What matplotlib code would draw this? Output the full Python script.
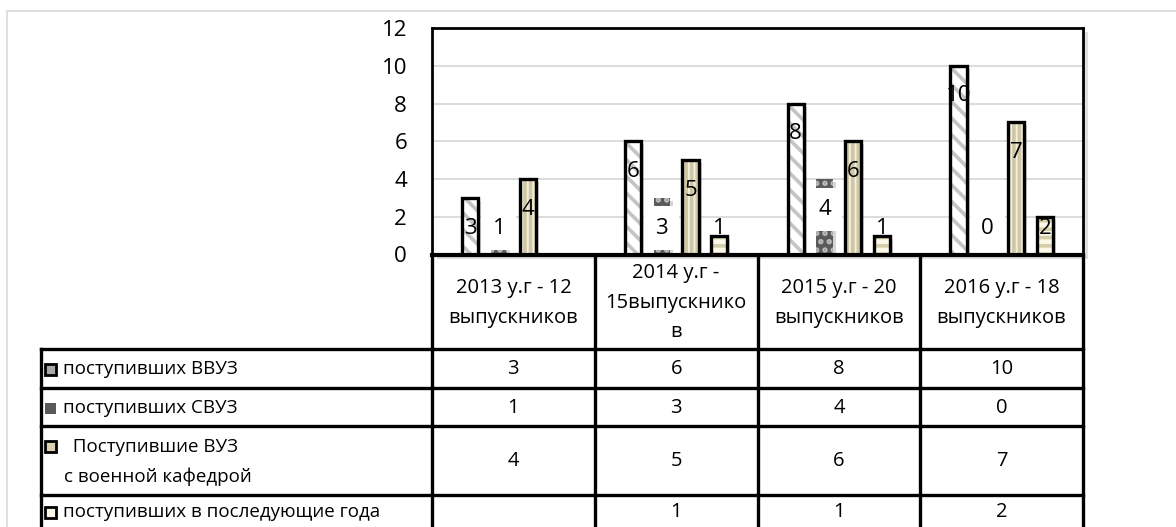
import numpy as np
import matplotlib.pyplot as plt
from matplotlib.patches import Rectangle
from matplotlib.transforms import offset_copy

plt.rcParams["font.family"] = ["Open Sans", "DejaVu Sans"]
plt.rcParams["hatch.linewidth"] = 2.6

categories = [
    ["2013 у.г - 12", "выпускников"],
    ["2014 у.г -", "15выпускнико", "в"],
    ["2015 у.г - 20", "выпускников"],
    ["2016 у.г - 18", "выпускников"],
]
series_names = [
    ["поступивших ВВУЗ"],
    ["поступивших СВУЗ"],
    ["  Поступившие ВУЗ", "с военной кафедрой"],
    ["поступивших в последующие года"],
]
vvuz = [3, 6, 8, 10]
svuz = [1, 3, 4, 0]
vuz_kafedra = [4, 5, 6, 7]
later_years = [np.nan, 1, 1, 2]
yticks = [0, 2, 4, 6, 8, 10, 12]

W, H = 1176, 527
FS = 14.5      # table header / values
FS_LEG = 13.5  # series names

# bar styles: face, hatch, hatch colour, border colour
styles = [
    ("white", "\\\\", "#c4c4c4", "black"),
    ("#5a5a5a", "..", "#bdbdbd", "none"),
    ("#f2eee0", "|||", "#cfc7a4", "black"),
    ("#fbf8ea", "--", "#d6cea8", "black"),
]

# pixel layout
PL, PR, PT, PB = 432, 1083, 28, 254.5
LEG_L = 41
col_edges = np.linspace(PL, PR, 5)
row_edges = [254.5, 349, 388, 426, 495, 540]


def fx(px):
    return px / W


def fy(py):
    return 1 - py / H


fig = plt.figure(figsize=(W / 100, H / 100), dpi=100)

# figure border
fig.patches.append(Rectangle((fx(7), fy(560)), 1.2, fy(11) - fy(560),
                             transform=fig.transFigure, fill=False,
                             edgecolor="#d9d9d9", lw=1.2, zorder=-2))

ax = fig.add_axes([fx(PL), fy(PB), fx(PR - PL), fy(PT) - fy(PB)])

# plot area shadow
fig.patches.append(Rectangle((0, 0), 1, 1, transform=offset_copy(ax.transAxes, fig, x=5, y=-4, units="dots"),
                             facecolor="#000000", alpha=0.12, lw=0, zorder=-1))

data = [vvuz, svuz, vuz_kafedra, later_years]
x = np.arange(len(categories))
step = 0.177
bw = 0.1
shadow_tr = offset_copy(ax.transData, fig, x=3, y=-3, units="dots")

for i, vals in enumerate(data):
    vals = np.array(vals, dtype=float)
    xi = x + (i - 1.5) * step
    face, hatch, hcol, ecol = styles[i]
    ax.bar(xi, vals, bw, color="black", alpha=0.16, lw=0, transform=shadow_tr, zorder=2)
    ax.bar(xi, vals, bw, facecolor=face, hatch=hatch, edgecolor=hcol, lw=0, zorder=3)
    if ecol != "none":
        ax.bar(xi, vals, bw, facecolor="none", edgecolor=ecol, lw=2.4, zorder=4)
    for xx, v in zip(xi, vals):
        if np.isnan(v):
            continue
        ty = max(v - 1.6, 1.4)
        box = dict(boxstyle="square,pad=0.5", facecolor="white", edgecolor="none") if i == 1 else None
        ax.text(xx, ty, f"{int(v)}", ha="center", va="center", fontsize=16,
                bbox=box, zorder=5)

ax.set_xlim(-0.5, 3.5)
ax.set_ylim(0, 12)
ax.set_yticks(yticks)
ax.set_xticks([])
ax.tick_params(axis="y", length=0, pad=18, labelsize=16)
ax.yaxis.grid(True, color="#d9d9d9", lw=1.3)
ax.set_axisbelow(True)
for s in ax.spines.values():
    s.set_linewidth(2)
    s.set_color("black")

# data table
tb = fig.add_axes([0, 0, 1, 1], facecolor="none")
tb.set_xlim(0, W)
tb.set_ylim(H, 0)
tb.axis("off")
lw = 2.4

for cx in col_edges:
    tb.plot([cx, cx], [row_edges[0], row_edges[-1]], color="black", lw=lw, solid_capstyle="projecting")
tb.plot([LEG_L, LEG_L], [row_edges[1], row_edges[-1]], color="black", lw=lw)
tb.plot([PL, PR], [row_edges[0], row_edges[0]], color="black", lw=lw + 0.6)
for ry in row_edges[1:-1]:
    tb.plot([LEG_L, PR], [ry, ry], color="black", lw=lw, solid_capstyle="projecting")

# header
line_gap = 29.5
hc = (row_edges[0] + row_edges[1]) / 2 + 1
for j, lines in enumerate(categories):
    cx = (col_edges[j] + col_edges[j + 1]) / 2
    n = len(lines)
    for k, t in enumerate(lines):
        tb.text(cx, hc + (k - (n - 1) / 2) * line_gap, t, ha="center", va="center", fontsize=FS)

# rows
for i, vals in enumerate(data):
    ry0, ry1 = row_edges[i + 1], min(row_edges[i + 2], H)
    rc = (ry0 + ry1) / 2 + 1
    face, hatch, hcol, ecol = styles[i]
    names = series_names[i]
    n = len(names)
    first_y = rc - (n - 1) / 2 * line_gap
    key_face = {0: "#a8a8a8", 2: "#d8d1b2"}.get(i, face)
    tb.add_patch(Rectangle((45, first_y - 5.5), 11, 11, facecolor=key_face, edgecolor=hcol, lw=0))
    if ecol != "none":
        tb.add_patch(Rectangle((45, first_y - 5.5), 11, 11, facecolor="none", edgecolor="black", lw=2))
    for k, t in enumerate(names):
        tb.text(63 if k == 0 else 64, first_y + k * line_gap, t, ha="left", va="center", fontsize=FS_LEG)
    for j, v in enumerate(vals):
        if np.isnan(v):
            continue
        cx = (col_edges[j] + col_edges[j + 1]) / 2
        tb.text(cx, rc, f"{int(v)}", ha="center", va="center", fontsize=FS)

fig.savefig("out.png", dpi=100)
